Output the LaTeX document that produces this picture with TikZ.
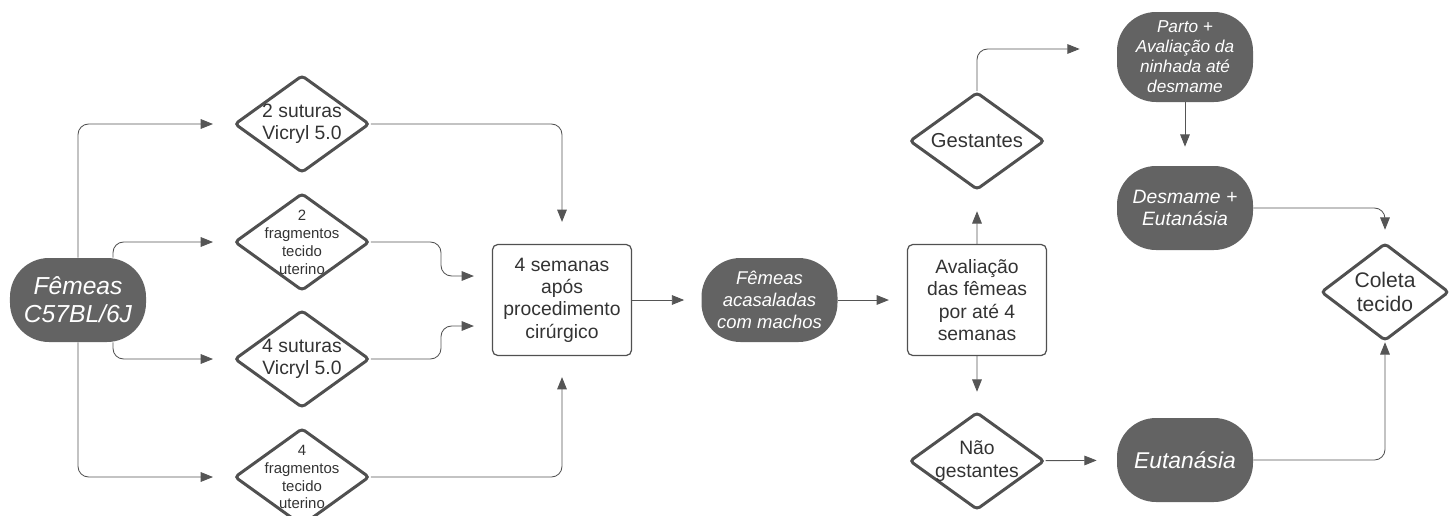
\documentclass[tikz,border=0pt]{standalone}
\usepackage{fontspec}
\setmainfont{Liberation Sans}
\usetikzlibrary{arrows.meta,shapes,positioning,calc}

\definecolor{pillgray}{RGB}{99,99,99}
\definecolor{edgegray}{RGB}{80,80,80}
\definecolor{linegray}{RGB}{85,85,85}
\definecolor{textgray}{RGB}{51,51,51}

\begin{document}
\begin{tikzpicture}[node distance=4.15cm,>={Triangle[length=7pt,width=5.5pt]}]
  \useasboundingbox (0,0) rectangle (29,-10.3);
  \tikzstyle{pill node}=[rectangle,rounded corners=0.78cm,fill=pillgray,text=white,font=\itshape\fontsize{10.5}{12.5}\selectfont,minimum width=2.72cm,minimum height=1.68cm,align=center,inner sep=0pt]
  \tikzstyle{box node}=[rectangle,rounded corners=3pt,draw=edgegray,line width=0.7pt,text=textgray,font=\fontsize{11}{12.7}\selectfont,minimum width=2.78cm,minimum height=2.22cm,align=center,inner sep=0pt]
  \tikzstyle{choice node}=[diamond,draw=edgegray,line width=1.7pt,rounded corners=2pt,minimum width=2.7cm,minimum height=1.95cm,inner sep=0pt]
  \tikzstyle{q text}=[align=center,text=textgray,inner sep=0pt,font=\fontsize{11}{12.5}\selectfont]
  \tikzstyle{q small}=[align=center,text=textgray,inner sep=0pt,font=\fontsize{8.5}{10.2}\selectfont]
  \tikzstyle{flow}=[->,draw=linegray,line width=0.5pt,rounded corners=6pt]

  % start and the four groups
  \node[pill node,font=\itshape\fontsize{14}{16}\selectfont] (F) at (1.56,-6) {Fêmeas\\C57BL/6J};
  \node[choice node,label={[q text]center:{2 suturas\\Vicryl 5.0}}] (S1) at (6.04,-2.48) {};
  \node[choice node,label={[q small]center:{2\\fragmentos\\tecido\\uterino}}] (S2) at (6.04,-4.84) {};
  \node[choice node,label={[q text]center:{4 suturas\\Vicryl 5.0}}] (S3) at (6.04,-7.18) {};
  \node[choice node,label={[q small]center:{4\\fragmentos\\tecido\\uterino}}] (S4) at (6.04,-9.54) {};

  % middle chain
  \node[box node] (P) at (11.24,-6) {4 semanas\\após\\procedimento\\cirúrgico};
  \node[pill node] (A) [right of=P] {Fêmeas\\acasaladas\\com machos};
  \node[box node] (V) [right of=A] {Avaliação\\das fêmeas\\por até 4\\semanas};
  \node[choice node,label={[q text,font=\fontsize{11.5}{13}\selectfont]center:{Gestantes}}] (G) at (19.54,-2.82) {};
  \node[choice node,label={[q text,font=\fontsize{11}{13}\selectfont]center:{Não\\gestantes}}] (N) at (19.54,-9.22) {};

  % outcomes
  \node[pill node,minimum height=1.8cm,font=\itshape\fontsize{9.8}{11.4}\selectfont] (B) at (23.7,-1.14) {Parto +\\Avaliação da\\ninhada até\\desmame};
  \node[pill node,font=\itshape\fontsize{11}{13}\selectfont] (D) at (23.7,-4.16) {Desmame +\\Eutanásia};
  \node[pill node,font=\itshape\fontsize{13}{15}\selectfont] (E) at (23.7,-9.2) {Eutanásia};
  \node[choice node,minimum width=2.56cm,label={[q text,font=\fontsize{12}{14}\selectfont]center:{Coleta\\tecido}}] (C) at (27.7,-5.84) {};

  \draw[flow,shorten >=0.4cm] (F.north) |- (S1);
  \draw[flow,shorten >=0.4cm] ([xshift=0.7cm]F.north) |- (S2);
  \draw[flow,shorten >=0.4cm] ([xshift=0.7cm]F.south) |- (S3);
  \draw[flow,shorten >=0.4cm] (F.south) |- (S4);

  \draw[flow,shorten >=0.44cm] (S1.east) -| (P);
  \draw[flow,shorten >=0.36cm] (S2.east) -- ++(1.4,0) |- ([yshift=0.48cm]P.west);
  \draw[flow,shorten >=0.36cm] (S3.east) -- ++(1.4,0) |- ([yshift=-0.52cm]P.west);
  \draw[flow,shorten >=0.42cm] (S4.east) -| (P);

  \draw[flow,shorten >=0.34cm] (P) -- (A);
  \draw[flow,shorten >=0.36cm] (A) -- (V);
  \draw[flow,shorten >=0.4cm] (V) -- (G);
  \draw[flow,shorten >=0.38cm] (V) -- (N);

  \draw[flow,shorten >=0.74cm] (G.north) |- ([yshift=0.16cm]B.west);
  \draw[flow,shorten >=0.38cm] (B) -- (D);
  \draw[flow,shorten >=0.24cm] (D.east) -| (C.north);
  \draw[flow,shorten >=0.4cm] (N) -- (E);
  \draw[flow] (E.east) -| (C.south);
\end{tikzpicture}
\end{document}
